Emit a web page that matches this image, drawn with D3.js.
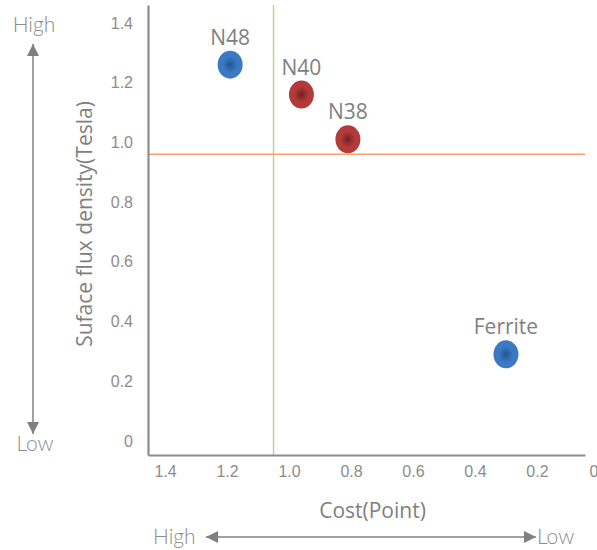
<!DOCTYPE html>
<html>
<head>
<meta charset="utf-8">
<script src="https://cdn.jsdelivr.net/npm/d3@7"></script>
<style>
body{margin:0;background:#fff;}
svg{display:block;}
</style>
</head>
<body>
<svg id="chart" width="597" height="550"></svg>
<script>
// ---- data ----
const names = ["N48", "N40", "N38", "Ferrite"];
const cost = [1.19, 0.96, 0.81, 0.30];
const flux = [1.26, 1.16, 1.01, 0.29];
const groups = ["blue", "red", "red", "blue"];
const tickValues = [0, 0.2, 0.4, 0.6, 0.8, 1.0, 1.2, 1.4];
const refCost = [1.05];
const refFlux = [0.96];

const svg = d3.select("#chart");
const x = d3.scaleLinear().domain([1.455, 0.045]).range([148, 585]);
const y = d3.scaleLinear().domain([-0.047, 1.46]).range([455, 5]);

const fmt = v => v === 0 ? "0" : d3.format(".1f")(v);

// gradients
const defs = svg.append("defs");
const grads = {blue: ["#24558f", "#3b79c4"], red: ["#74201f", "#b43a3a"]};
Object.entries(grads).forEach(([k, c]) => {
  const g = defs.append("radialGradient").attr("id", "g-" + k);
  g.append("stop").attr("offset", "0%").attr("stop-color", c[0]);
  g.append("stop").attr("offset", "60%").attr("stop-color", c[1]);
  g.append("stop").attr("offset", "100%").attr("stop-color", c[1]);
});
defs.append("marker").attr("id", "arr").attr("viewBox", "0 0 10 10")
  .attr("refX", 10).attr("refY", 5).attr("markerWidth", 12).attr("markerHeight", 12)
  .attr("markerUnits", "userSpaceOnUse").attr("orient", "auto-start-reverse")
  .append("path").attr("d", "M0,0 L10,5 L0,10 Z").attr("fill", "#808080");

// reference lines
svg.selectAll(".refx").data(refCost).join("line")
  .attr("x1", d => x(d)).attr("x2", d => x(d))
  .attr("y1", y.range()[1]).attr("y2", y.range()[0])
  .attr("stroke", "#b4d28c").attr("stroke-width", 1.4);
svg.selectAll(".refy").data(refFlux).join("line")
  .attr("x1", x.range()[0]).attr("x2", x.range()[1])
  .attr("y1", d => y(d)).attr("y2", d => y(d))
  .attr("stroke", "#f2a46c").attr("stroke-width", 1.4);

// axes
const yAxis = svg.append("g").attr("transform", `translate(${x.range()[0]},0)`)
  .call(d3.axisLeft(y).tickValues(tickValues).tickSize(0).tickPadding(15).tickFormat(fmt));
const xAxis = svg.append("g").attr("transform", `translate(0,${y.range()[0]})`)
  .call(d3.axisBottom(x).tickValues(tickValues).tickSize(0).tickPadding(11).tickFormat(fmt));
[yAxis, xAxis].forEach(a => {
  a.select(".domain").attr("stroke", "#8c8c8c").attr("stroke-width", 2.2);
  a.selectAll("text").attr("fill", "#8c8c8c").style("font-family", "'Liberation Sans', Arial, sans-serif").style("font-size", "16px");
});
yAxis.selectAll(".tick text").attr("dy", "0.32em");
xAxis.selectAll(".tick").filter(d => d === 0).select("text").attr("text-anchor", "end").attr("dx", -1);

// axis titles
const titleFont = "'Open Sans', 'Noto Sans', sans-serif";
svg.append("text").attr("transform", `translate(92,${(y.range()[0] + y.range()[1]) / 2 - 6}) rotate(-90)`)
  .attr("text-anchor", "middle").attr("fill", "#7f7f7f")
  .style("font-family", titleFont).style("font-size", "21px")
  .text("Suface flux density(Tesla)");
svg.append("text").attr("x", (x.range()[0] + x.range()[1]) / 2 + 6).attr("y", 518)
  .attr("text-anchor", "middle").attr("fill", "#7f7f7f")
  .style("font-family", titleFont).style("font-size", "21px")
  .text("Cost(Point)");

// points
const data = names.map((n, i) => ({n, c: cost[i], f: flux[i], g: groups[i]}));
svg.selectAll(".pt").data(data).join("ellipse")
  .attr("cx", d => x(d.c)).attr("cy", d => y(d.f))
  .attr("rx", 12.5).attr("ry", 14)
  .attr("fill", d => `url(#g-${d.g})`);
svg.selectAll(".lbl").data(data).join("text")
  .attr("x", d => x(d.c)).attr("y", d => y(d.f) - 20)
  .attr("text-anchor", "middle").attr("fill", "#7f7f7f")
  .style("font-family", titleFont).style("font-size", "21px")
  .text(d => d.n);

// High/Low arrows
const lab = (t, xx, yy, anchor) => svg.append("text").attr("x", xx).attr("y", yy)
  .attr("text-anchor", anchor).attr("fill", "#8c8c8c")
  .style("font-family", "Lato, sans-serif").style("font-weight", 300).style("font-size", "21px").text(t);
svg.append("line").attr("x1", 33).attr("x2", 33).attr("y1", 44).attr("y2", 434)
  .attr("stroke", "#808080").attr("stroke-width", 1.5)
  .attr("marker-start", "url(#arr)").attr("marker-end", "url(#arr)");
lab("High", 34, 32, "middle");
lab("Low", 35, 451, "middle");
svg.append("line").attr("x1", 206).attr("x2", 536).attr("y1", 537).attr("y2", 537)
  .attr("stroke", "#808080").attr("stroke-width", 1.5)
  .attr("marker-start", "url(#arr)").attr("marker-end", "url(#arr)");
lab("High", 153, 544, "start");
lab("Low", 537, 544, "start");
</script>
</body>
</html>
